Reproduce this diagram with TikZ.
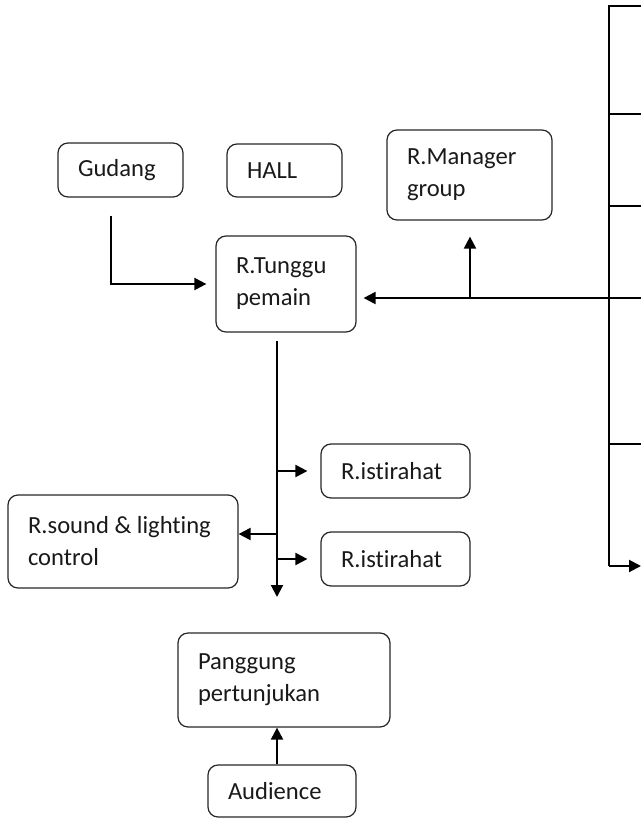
\documentclass[tikz,border=0pt]{standalone}
\usepackage{fontspec}
\setmainfont{Carlito}[Ligatures={NoCommon,NoRare,NoDiscretionary}]
\usetikzlibrary{arrows.meta,calc,positioning}

\begin{document}
\begin{tikzpicture}[x=0.5pt, y=-0.5pt,
  room/.style={draw=black!85, line width=0.6pt, rounded corners=5pt,
    align=flush left, inner xsep=10pt, inner ysep=2pt,
    font=\fontsize{12.3}{16}\selectfont, text=black!90},
  link/.style={line width=1pt},
  arr/.style={link, -{Triangle[length=6pt,width=6pt]}}]
  \useasboundingbox (0,0) rectangle (641,819);

  % === Rooms ===
  \node[room, text width=42.5pt, minimum height=27pt] (gudang) at (120.5,170) {Gudang};
  \node[room, text width=37.5pt, minimum height=26.5pt] (hall) at (284.5,170.5) {HALL};
  \node[room, text width=62.5pt, minimum height=45pt] (manager) at (469.5,175) {R.Manager\\group};
  \node[room, text width=50pt, minimum height=48pt] (tunggu) at (286,284) {R.Tunggu\\pemain};
  \node[room, text width=54.5pt, minimum height=27pt] (ist1) at (395.5,471) {R.istirahat};
  \node[room, text width=54.5pt, minimum height=27pt] (ist2) at (395.5,559) {R.istirahat};
  \node[room, text width=95pt, minimum height=46.5pt] (sound) at (123,541.5) {R.sound \& lighting\\control};
  \node[room, text width=86pt, minimum height=47pt] (panggung) at (284,680) {Panggung\\pertunjukan};
  \node[room, text width=54pt, minimum height=26pt] (audience) at (282,791) {Audience};

  % === Gudang to waiting room ===
  \draw[arr, shorten >=4.5pt] ([xshift=-4.75pt,yshift=-9pt]gudang.south) |- (tunggu.west);

  % === Bus on the right edge ===
  \coordinate (bustop) at (609,6);
  \coordinate (busbot) at (609,566);
  \coordinate (edgetop) at (641,6);
  \coordinate (edgebot) at (641,566);
  \draw[link] (edgetop) -- (bustop) -- (busbot);
  \foreach \y in {114,206,444} {
    \draw[link] (609,\y) -- (641,\y);
  }
  \draw[arr] (busbot) -- (edgebot);

  % Feed into waiting room, branch up to manager
  \coordinate (edgemid) at (641,298);
  \coordinate (tap) at (470,298);
  \draw[arr, shorten >=3.5pt] (edgemid) -- (edgemid -| tunggu.east);
  \draw[arr, shorten >=8pt] (tap) -- (tap |- manager.south);

  % === Trunk down from waiting room ===
  \coordinate (trunktop) at ([xshift=-4.5pt,yshift=-4pt]tunggu.south);
  \coordinate (trunkbot) at (277,597);
  \draw[arr] (trunktop) -- (trunkbot);
  \draw[arr, shorten >=6.5pt] (trunktop |- ist1.west) -- (ist1.west);
  \draw[arr, shorten >=6.5pt] (trunktop |- ist2.west) -- (ist2.west);
  \coordinate (jsound) at (277,534);
  \draw[arr] (jsound) -- (jsound -| sound.east);

  % === Audience to stage ===
  \draw[arr] ([xshift=-2.5pt]audience.north) -- ([xshift=-2.5pt]audience.north |- panggung.south);
\end{tikzpicture}
\end{document}
